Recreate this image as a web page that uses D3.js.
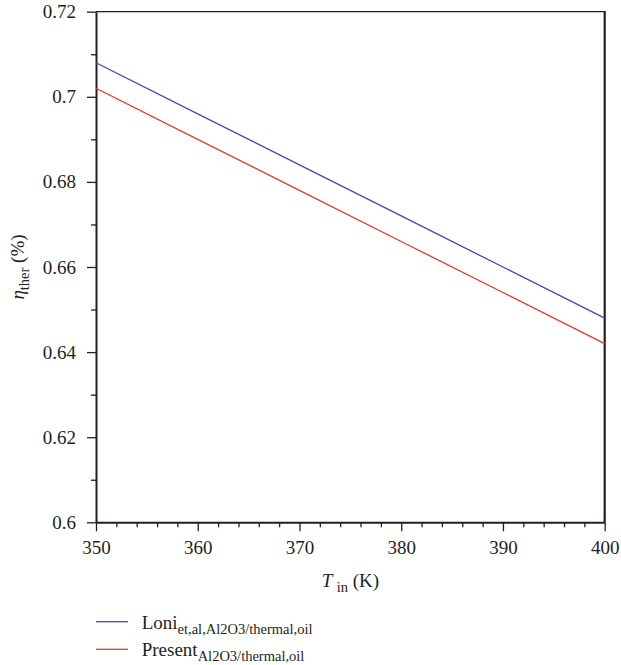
<!DOCTYPE html>
<html>
<head>
<meta charset="utf-8">
<script src="https://cdn.jsdelivr.net/npm/d3@7"></script>
<style>
  body { margin: 0; background: #fff; }
  svg { display: block; }
</style>
</head>
<body>
<div id="chart"></div>
<script>
  // temperatures (K)
  var temps = [350, 360, 370, 380, 390, 400];
  // thermal efficiency
  var loniVals = [0.708, 0.696, 0.684, 0.672, 0.660, 0.648];
  var presentVals = [0.702, 0.690, 0.678, 0.666, 0.654, 0.642];

  var xTicks = [350, 360, 370, 380, 390, 400];
  var yTicks = [0.6, 0.62, 0.64, 0.66, 0.68, 0.7, 0.72];

  var seriesNames = ["Loni", "Present"];
  var seriesSubs = ["et,al,Al2O3/thermal,oil", "Al2O3/thermal,oil"];
  var seriesColors = ["#3a4db3", "#e8352b"];

  var FONT = "'Liberation Serif', 'DejaVu Serif', serif";
  var INK = "#231f20";

  var W = 621, H = 665;
  var margin = {top: 11.7, left: 96, right: 16.3, bottom: 142.7};
  var width = W - margin.left - margin.right,
      height = H - margin.top - margin.bottom;

  var svg = d3.select("#chart").append("svg")
    .attr("width", W)
    .attr("height", H)
    .attr("font-family", FONT);

  var g = svg.append("g")
    .attr("transform", "translate(" + margin.left + "," + margin.top + ")");

  var x = d3.scaleLinear().domain([350, 400]).range([0, width]);
  var y = d3.scaleLinear().domain([0.6, 0.72]).range([height, 0]);

  function styleAxis(s) {
    s.attr("font-family", FONT).attr("font-size", 19);
    s.selectAll("text").attr("fill", INK).attr("font-family", FONT).attr("font-size", 19);
    s.selectAll("line").attr("stroke", INK).attr("stroke-width", 1.3);
    s.select(".domain").attr("stroke", INK).attr("stroke-width", 2);
  }

  // minor ticks
  var xMinor = d3.range(352, 400, 2).filter(function(v) { return v % 10 !== 0; });
  var yMinor = [0.61, 0.63, 0.65, 0.67, 0.69, 0.71];

  g.append("g")
    .attr("transform", "translate(0," + height + ")")
    .call(d3.axisBottom(x).tickValues(xMinor).tickSize(5).tickFormat(""))
    .call(styleAxis)
    .call(function(s) { s.select(".domain").remove(); });

  g.append("g")
    .call(d3.axisLeft(y).tickValues(yMinor).tickSize(5).tickFormat(""))
    .call(styleAxis)
    .call(function(s) { s.select(".domain").remove(); });

  // major axes
  g.append("g")
    .attr("transform", "translate(0," + height + ")")
    .call(d3.axisBottom(x).tickValues(xTicks).tickSize(9).tickSizeOuter(0).tickPadding(9))
    .call(styleAxis);

  g.append("g")
    .call(d3.axisLeft(y).tickValues(yTicks).tickSize(9).tickSizeOuter(0).tickPadding(11)
      .tickFormat(function(d) { return String(+d.toFixed(2)); }))
    .call(styleAxis);

  // top and right frame
  g.append("line")
    .attr("x1", 0).attr("x2", width + 1)
    .attr("y1", 0).attr("y2", 0)
    .attr("stroke", INK).attr("stroke-width", 1.3);
  g.append("line")
    .attr("x1", width).attr("x2", width)
    .attr("y1", 0).attr("y2", height)
    .attr("stroke", INK).attr("stroke-width", 2.2);

  // data lines
  var line = d3.line()
    .x(function(d) { return x(d.t); })
    .y(function(d) { return y(d.v); });

  [loniVals, presentVals].forEach(function(vals, i) {
    var pts = temps.map(function(t, j) { return {t: t, v: vals[j]}; });
    g.append("path")
      .datum(pts)
      .attr("fill", "none")
      .attr("stroke", seriesColors[i])
      .attr("stroke-width", 1.3)
      .attr("d", line);
  });

  // x label
  var xl = g.append("text")
    .attr("x", width / 2)
    .attr("y", height + 64.3)
    .attr("text-anchor", "middle")
    .attr("font-size", 19)
    .attr("fill", INK);
  xl.append("tspan").attr("font-style", "italic").text("T ");
  xl.append("tspan").attr("font-size", 14.5).attr("dy", 5).text("in");
  xl.append("tspan").attr("dy", -5).text(" (K)");

  // y label
  var yl = g.append("text")
    .attr("transform", "translate(" + (-72) + "," + (height / 2) + ") rotate(-90)")
    .attr("text-anchor", "middle")
    .attr("font-size", 19)
    .attr("fill", INK);
  yl.append("tspan").attr("font-style", "italic").text("\u03b7");
  yl.append("tspan").attr("font-size", 14.5).attr("dy", 5).text("ther");
  yl.append("tspan").attr("dy", -5).text(" (%)");

  // legend
  var leg = svg.append("g").attr("transform", "translate(96,621.7)");
  seriesNames.forEach(function(name, i) {
    var row = leg.append("g").attr("transform", "translate(0," + (i * 27.6) + ")");
    row.append("line")
      .attr("x1", 0).attr("x2", 32)
      .attr("stroke", seriesColors[i])
      .attr("stroke-width", 1.3);
    var t = row.append("text")
      .attr("x", 45.7)
      .attr("y", 7)
      .attr("font-size", 19)
      .attr("fill", INK);
    t.append("tspan").text(name);
    t.append("tspan").attr("font-size", 14.5).attr("dy", 5).text(seriesSubs[i]);
  });
</script>
</body>
</html>
